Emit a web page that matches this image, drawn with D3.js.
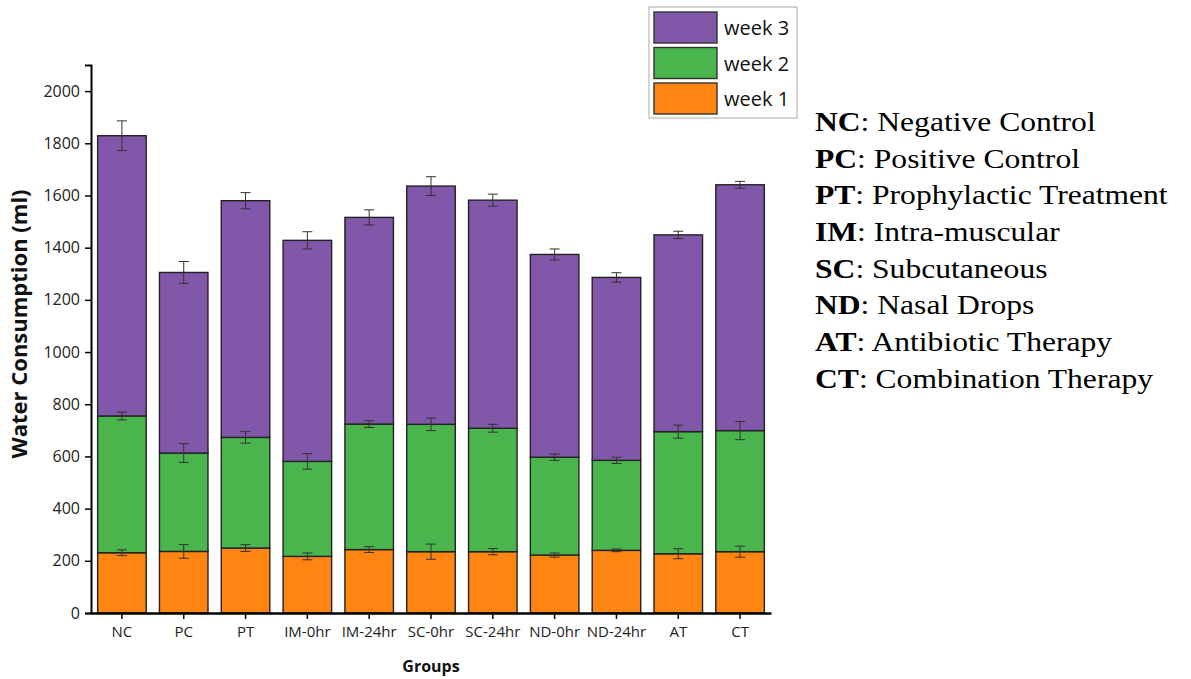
<!DOCTYPE html>
<html>
<head>
<meta charset="utf-8">
<script src="https://cdn.jsdelivr.net/npm/d3@7"></script>
<style>
  body { margin: 0; background: #fff; }
  svg { display: block; }
  .tick text { font-family: "Open Sans", sans-serif; fill: #222; }
</style>
</head>
<body>
<div id="chart"></div>
<script>
var groups = ["NC", "PC", "PT", "IM-0hr", "IM-24hr", "SC-0hr", "SC-24hr", "ND-0hr", "ND-24hr", "AT", "CT"];
var week1 = [231, 236, 249, 217, 243, 235, 235, 222, 240, 227, 235];
var week2 = [524, 377, 424, 364, 481, 488, 473, 375, 345, 468, 464];
var week3 = [1074, 692, 907, 847, 792, 913, 874, 777, 701, 754, 942];
var err1 = [11, 26, 13, 13, 11, 29, 12, 8, 5, 19, 21];
var err2 = [15, 36, 22, 30, 13, 24, 15, 12, 12, 25, 35];
var err3 = [57, 42, 31, 33, 29, 36, 23, 21, 18, 14, 13];
var yTicks = [0, 200, 400, 600, 800, 1000, 1200, 1400, 1600, 1800, 2000];
var seriesNames = ["week 1", "week 2", "week 3"];
var seriesColors = ["#fe8511", "#4ab54d", "#8157a9"];
var notes = [
  ["NC", ": Negative Control"],
  ["PC", ": Positive Control"],
  ["PT", ": Prophylactic Treatment"],
  ["IM", ": Intra-muscular"],
  ["SC", ": Subcutaneous"],
  ["ND", ": Nasal Drops"],
  ["AT", ": Antibiotic Therapy"],
  ["CT", ": Combination Therapy"]
];

var W = 1191, H = 679;
var margin = { left: 91, top: 65 };
var width = 680, height = 548;

var svg = d3.select("#chart").append("svg")
  .attr("width", W)
  .attr("height", H);

var g = svg.append("g")
  .attr("transform", "translate(" + margin.left + "," + margin.top + ")");

var x = d3.scaleBand()
  .domain(groups)
  .range([0, width])
  .paddingInner(0.215)
  .paddingOuter(0.1075);

var y = d3.scaleLinear().domain([0, 2100]).range([height, 0]);

// stacked data
var rows = groups.map(function(gname, i) {
  return { group: gname, "week 1": week1[i], "week 2": week2[i], "week 3": week3[i] };
});
var errs = [err1, err2, err3];
var stack = d3.stack().keys(seriesNames)(rows);

stack.forEach(function(layer, k) {
  g.append("g")
    .selectAll("rect")
    .data(layer)
    .enter()
    .append("rect")
    .attr("x", d => x(d.data.group))
    .attr("width", x.bandwidth())
    .attr("y", d => y(d[1]))
    .attr("height", d => y(d[0]) - y(d[1]))
    .style("fill", seriesColors[k])
    .style("stroke", "#222")
    .style("stroke-width", 1.4);
});

// error bars on top of each segment
stack.forEach(function(layer, k) {
  var eg = g.append("g").style("stroke", "#333").style("stroke-width", 1);
  layer.forEach(function(d, i) {
    var cx = x(d.data.group) + x.bandwidth() / 2;
    var e = errs[k][i];
    var y1 = y(d[1] + e), y2 = y(d[1] - e);
    eg.append("line").attr("x1", cx).attr("x2", cx).attr("y1", y1).attr("y2", y2);
    eg.append("line").attr("x1", cx - 5).attr("x2", cx + 5).attr("y1", y1).attr("y2", y1);
    eg.append("line").attr("x1", cx - 5).attr("x2", cx + 5).attr("y1", y2).attr("y2", y2);
  });
});

// axes
var yAxis = g.append("g")
  .call(d3.axisLeft(y).tickValues(yTicks).tickFormat(d3.format("d")).tickSize(6).tickPadding(5));
yAxis.selectAll("text").style("font-size", "16px");
yAxis.select(".domain").style("stroke-width", 2);
yAxis.selectAll(".tick line").style("stroke-width", 1.5);

var xAxis = g.append("g")
  .attr("transform", "translate(0," + height + ")")
  .call(d3.axisBottom(x).tickSize(6).tickPadding(7).tickSizeOuter(0));
xAxis.selectAll("text").style("font-size", "15px");
xAxis.select(".domain").style("stroke-width", 2.5);
xAxis.selectAll(".tick line").style("stroke-width", 1.5);

g.append("text")
  .attr("transform", "rotate(-90)")
  .attr("x", -(height / 2) + 15)
  .attr("y", -64)
  .style("text-anchor", "middle")
  .style("font-family", "Open Sans, sans-serif")
  .style("font-weight", "bold")
  .style("font-size", "22px")
  .style("fill", "#111")
  .text("Water Consumption (ml)");

g.append("text")
  .attr("x", width / 2)
  .attr("y", height + 59)
  .style("text-anchor", "middle")
  .style("font-family", "Open Sans, sans-serif")
  .style("font-weight", "bold")
  .style("font-size", "16px")
  .style("fill", "#111")
  .text("Groups");

// legend
var leg = svg.append("g").attr("transform", "translate(649,7)");
leg.append("rect")
  .attr("width", 148).attr("height", 111)
  .style("fill", "#fff").style("stroke", "#aaa").style("stroke-width", 1);
seriesNames.slice().reverse().forEach(function(name, i) {
  var k = 2 - i;
  leg.append("rect")
    .attr("x", 5).attr("y", 5 + i * 35.5)
    .attr("width", 63).attr("height", 31)
    .style("fill", seriesColors[k])
    .style("stroke", "#333").style("stroke-width", 1.4);
  leg.append("text")
    .attr("x", 75).attr("y", 5 + i * 35.5 + 23)
    .style("font-family", "Open Sans, sans-serif")
    .style("font-size", "20px")
    .style("fill", "#111")
    .text(name);
});

// abbreviations
var ab = svg.append("g").attr("transform", "translate(815,131) scale(1.17,1)");
notes.forEach(function(n, i) {
  var t = ab.append("text")
    .attr("y", i * 36.7)
    .style("font-family", "Liberation Serif, Times New Roman, serif")
    .style("font-size", "27px")
    .style("fill", "#000");
  t.append("tspan").style("font-weight", "bold").text(n[0]);
  t.append("tspan").text(n[1]);
});
</script>
</body>
</html>
